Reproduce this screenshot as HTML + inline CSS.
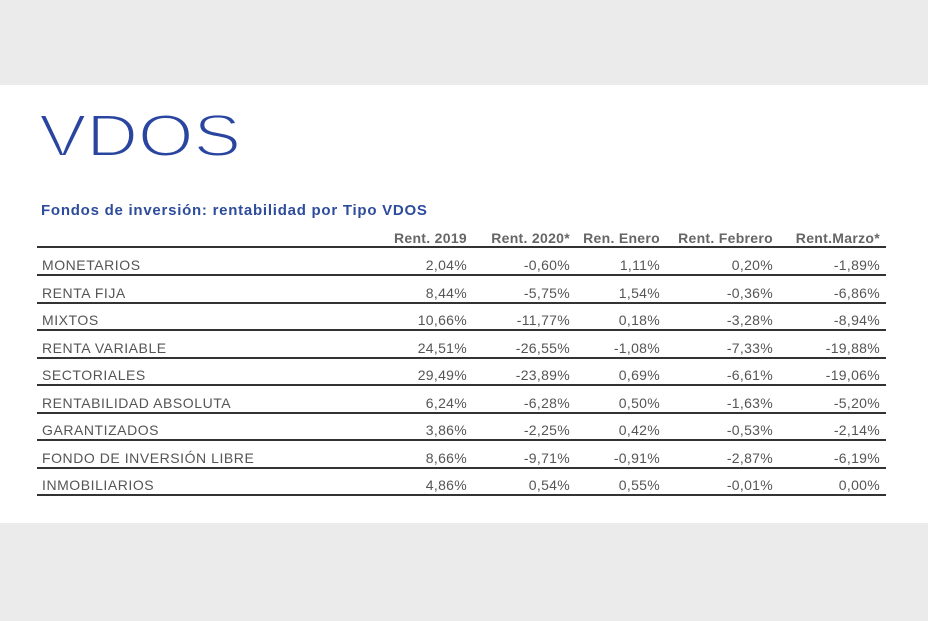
<!DOCTYPE html>
<html><head><meta charset="utf-8"><style>
body{margin:0;width:928px;height:621px;background:#ebebeb;position:relative;overflow:hidden;font-family:"Liberation Sans",sans-serif}
#w{position:absolute;left:0;top:85px;width:928px;height:438px;background:#fff}
.t{position:absolute;white-space:nowrap}
.r{text-align:right}
.ln{position:absolute;left:37px;width:849px;height:2px;background:#333}
</style></head><body>
<div id="w"></div>
<svg style="position:absolute;left:0;top:0" width="928" height="200">
<text x="39" y="156" font-family="Liberation Sans" font-size="59" fill="#2a45a0" stroke="#fff" stroke-width="2" textLength="202" lengthAdjust="spacingAndGlyphs">VDOS</text>
</svg>
<div class="t" style="left:41px;top:202px;font-size:15px;letter-spacing:0.75px;font-weight:bold;color:#2e4c9c">Fondos de inversión: rentabilidad por Tipo VDOS</div>
<div id="tb"></div>
<script>
var cols=[467,570,660,773,880];
var hd=["Rent. 2019","Rent. 2020*","Ren. Enero","Rent. Febrero","Rent.Marzo*"];
var rows=[["MONETARIOS","2,04%","-0,60%","1,11%","0,20%","-1,89%"],
["RENTA FIJA","8,44%","-5,75%","1,54%","-0,36%","-6,86%"],
["MIXTOS","10,66%","-11,77%","0,18%","-3,28%","-8,94%"],
["RENTA VARIABLE","24,51%","-26,55%","-1,08%","-7,33%","-19,88%"],
["SECTORIALES","29,49%","-23,89%","0,69%","-6,61%","-19,06%"],
["RENTABILIDAD ABSOLUTA","6,24%","-6,28%","0,50%","-1,63%","-5,20%"],
["GARANTIZADOS","3,86%","-2,25%","0,42%","-0,53%","-2,14%"],
["FONDO DE INVERSIÓN LIBRE","8,66%","-9,71%","-0,91%","-2,87%","-6,19%"],
["INMOBILIARIOS","4,86%","0,54%","0,55%","-0,01%","0,00%"]];
var h="";
hd.forEach(function(s,i){h+='<div class="t r" style="right:'+(928-cols[i])+'px;top:230px;font-size:14px;letter-spacing:0.3px;font-weight:bold;color:#666">'+s+'</div>';});
h+='<div class="ln" style="top:246px"></div>';
rows.forEach(function(r,j){var y=257+j*27.5;
h+='<div class="t" style="left:42px;top:'+y+'px;font-size:14px;letter-spacing:0.55px;color:#555">'+r[0]+'</div>';
for(var i=1;i<6;i++)h+='<div class="t r" style="right:'+(928-cols[i-1])+'px;top:'+y+'px;font-size:14px;letter-spacing:0.3px;color:#555">'+r[i]+'</div>';
h+='<div class="ln" style="top:'+(274+j*27.5)+'px"></div>';});
document.getElementById("tb").innerHTML=h;
</script>
</body></html>
